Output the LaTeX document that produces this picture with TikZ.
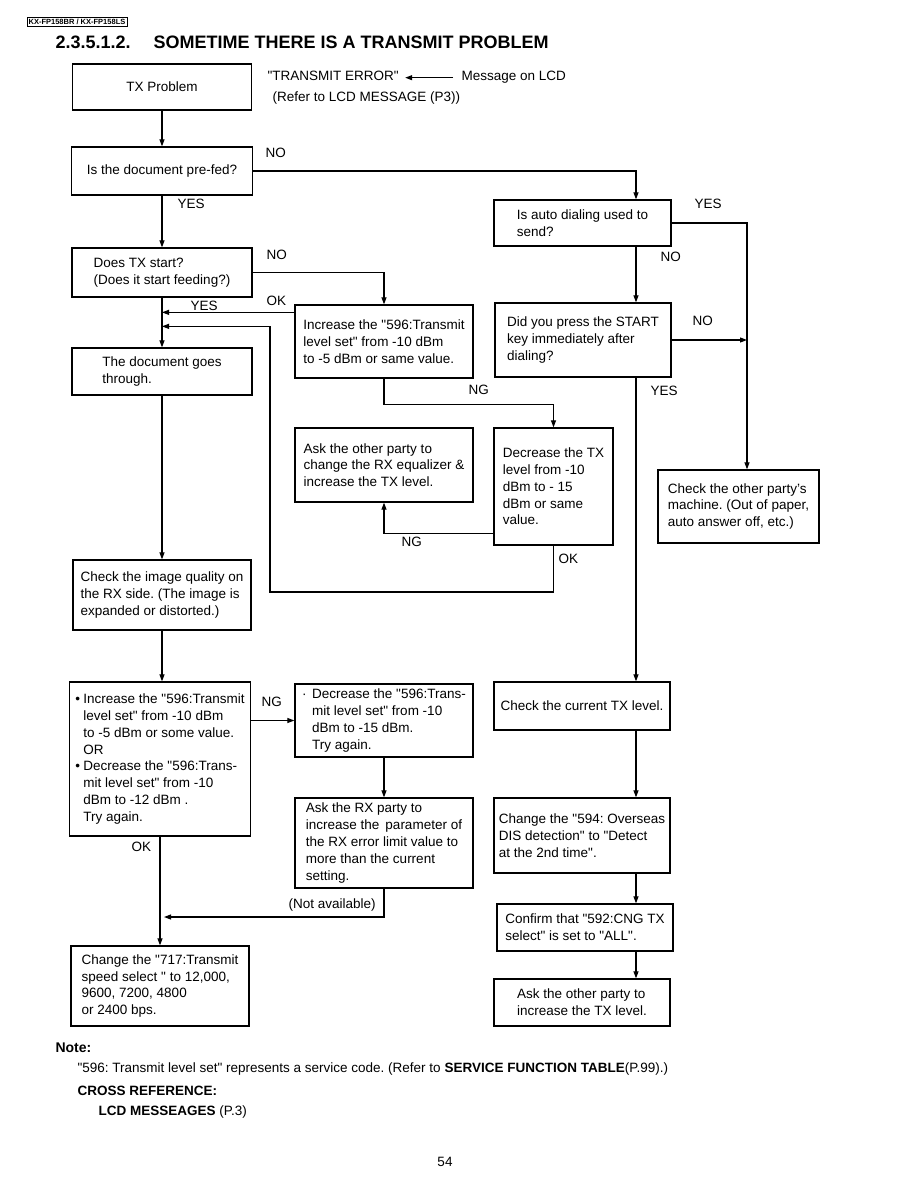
\documentclass[tikz,border=0pt]{standalone}
\usepackage{fontspec}
\setmainfont{Liberation Sans}
\frenchspacing
\usetikzlibrary{arrows.meta, positioning, calc}
\tikzset{
  every picture/.style={x=1pt, y=-1pt, line width=1.1pt},
  box/.style 2 args={draw, line width=1.3pt, align=left, inner sep=1pt, minimum width=#1, minimum height=#2, font=\fontsize{13.5}{16.8}\selectfont},
  arrow/.style={-{Triangle[length=7pt, width=5pt]}, line width=1.1pt},
  lbl/.style={anchor=west, inner sep=0pt, font=\fontsize{13.5}{16.8}\selectfont},
  note/.style={anchor=west, inner sep=0pt, font=\fontsize{13.5}{16}\selectfont},
}
\newcommand{\q}{\textquotedbl}
\newcommand{\bul}{\makebox[8pt][l]{\textbullet}}
\newcommand{\ind}{\hspace*{8pt}}

\begin{document}
\begin{tikzpicture}
  \useasboundingbox (0,0) rectangle (918,1188);
  \node[draw, line width=0.6pt, inner sep=1.5pt, font=\fontsize{7.5}{8}\selectfont\bfseries] (model) at (77,22) {KX-FP158BR / KX-FP158LS};
  \node[anchor=west, inner sep=0pt, font=\fontsize{18}{20}\selectfont\bfseries] (title) at (55,42) {2.3.5.1.2.\hspace{23pt}SOMETIME THERE IS A TRANSMIT PROBLEM};

  \coordinate (rx) at (636,0);
  \coordinate (rs) at (747,0);

  % left column
  \node[box={179}{46}] (tx) at (162,87) {TX Problem};
  \node[box={181}{48}] (prefed) at (162,171) {Is the document pre-fed?};
  \node[box={180}{49}] (start) at (162,272.5) {Does TX start?\\(Does it start feeding?)};
  \node[box={180}{47}] (doc) at (162,371.5) {The document goes\\through.};
  \node[box={178}{70}] (img) at (162,595) {Check the image quality on\\the RX side. (The image is\\expanded or distorted.)};
  \node[box={181}{154}] (bulbox) at (160,759) {\bul Increase the \q596:Transmit\\\ind level set\q{} from -10 dBm\\\ind to -5 dBm or some value.\\\ind OR\\\bul Decrease the \q596:Trans-\\\ind mit level set\q{} from -10\\\ind dBm to -12 dBm .\\\ind Try again.};
  \node[box={178}{80}] (spd) at (160,986) {Change the \q717:Transmit\\speed select \q{} to 12,000,\\9600, 7200, 4800\\or 2400 bps.};

  % middle column
  \node[box={178}{73}] (incr) at (384,341.5) {Increase the \q596:Transmit\\level set\q{} from -10 dBm\\to -5 dBm or same value.};
  \node[box={178}{74}] (askeq) at (384,465) {Ask the other party to\\change the RX equalizer \&\\increase the TX level.};
  \node[box={119}{117}] (dectx) at (553.5,486.5) {Decrease the TX\\level from -10\\dBm to - 15\\dBm or same\\value.};
  \node[box={178}{73}] (dec596) at (384,720.5) {\makebox[10pt][l]{\textperiodcentered}Decrease the \q596:Trans-\\\hspace*{10pt}mit level set\q{} from -10\\\hspace*{10pt}dBm to -15 dBm.\\\hspace*{10pt}Try again.};
  \node[box={178}{90}] (askrx) at (384,843) {Ask the RX party to\\increase the\, parameter of\\the RX error limit value to\\more than the current\\setting.};

  % right column
  \node[box={177}{46}] (auto) at (582.5,223) {Is auto dialing used to\\send?};
  \node[box={176}{74}] (press) at (583,340) {Did you press the START\\key immediately after\\dialing?};
  \node[box={161}{73}] (other) at (738.5,506.5) {Check the other party's\\machine. (Out of paper,\\auto answer off, etc.)};
  \node[box={176}{48}] (cur) at (582,706) {Check the current TX level.};
  \node[box={176}{75}] (c594) at (582,835.5) {Change the \q594: Overseas\\DIS detection\q{} to \q{}Detect\\at the 2nd time\q.};
  \node[box={176}{47}] (conf) at (585,927.5) {Confirm that \q592:CNG TX\\select\q{} is set to \q ALL\q.};
  \node[box={176}{47}] (askt) at (582,1002.5) {Ask the other party to\\increase the TX level.};

  % lcd message
  \node[lbl, anchor=base west] (errmsg) at (267,81) {\q TRANSMIT ERROR\q};
  \node[lbl, anchor=base west] (lcd) at (461,81) {Message on LCD};
  \node[lbl] (refer) at (272,98) {(Refer to LCD MESSAGE (P3))};
  \draw[arrow] ([xshift=-8pt]lcd.west) -- ([xshift=6pt]lcd.west -| errmsg.east);

  % labels
  \node[lbl] (no1) at (265,153) {NO};
  \node[lbl] (yes1) at (177,204) {YES};
  \node[lbl] (no2) at (266,255) {NO};
  \node[lbl] (yes2) at (190,306) {YES};
  \node[lbl] (ok1) at (266,301) {OK};
  \node[lbl] (ng1) at (468,390) {NG};
  \node[lbl] (yes3) at (694,204) {YES};
  \node[lbl] (no3) at (660,257) {NO};
  \node[lbl] (no4) at (692,321) {NO};
  \node[lbl] (yes4) at (650,391) {YES};
  \node[lbl] (ng2) at (401,542) {NG};
  \node[lbl] (ok2) at (558,559) {OK};
  \node[lbl] (ng3) at (261,702) {NG};
  \node[lbl] (ok3) at (131,847) {OK};
  \node[lbl] (notav) at (288,905) {(Not available)};

  % connectors
  \foreach \u/\v in {tx/prefed, prefed/start, start/doc, doc/img, img/bulbox, bulbox/spd}
    \draw[arrow] (\u.south) -- (\u.south |- \v.north);
  \foreach \u/\v in {auto/press, press/cur, cur/c594, c594/conf, conf/askt}
    \draw[arrow] (\u.south -| rx) -- (\v.north -| rx);
  \draw[arrow] (prefed.east) -| (auto.north -| rx);
  \draw[arrow] (auto.east) -| (other.north -| rs);
  \draw[arrow] (press.east) -- (press.east -| rs);
  \draw[arrow] (start.east) -| (incr.north);
  \draw[arrow] ([yshift=-8pt]incr.north west) -- ([yshift=-8pt]incr.north west -| start.south);
  \draw[arrow] (incr.south) -- ++(0,26) -| (dectx.north);
  \draw[arrow] ([yshift=12pt]dectx.south west) -| (askeq.south);
  \coordinate (okloop) at (270,592);
  \draw[arrow] (dectx.south) |- (okloop) |- ([yshift=21pt]doc.north);
  \draw[arrow] (dec596.west -| bulbox.east) -- (dec596.west);
  \draw[arrow] (dec596) -- (askrx);
  \coordinate (na) at (164,917);
  \draw[arrow] (askrx.south) |- (na);

  % notes
  \node[note, font=\fontsize{14}{16}\selectfont\bfseries] (notehd) at (55,1048) {Note:};
  \node[note] (note1) at (77,1069) {\q596: Transmit level set\q{} represents a service code. (Refer to \textbf{SERVICE FUNCTION TABLE}(P.99).)};
  \node[note, font=\fontsize{13.5}{16}\selectfont\bfseries] (xref) at (77,1091) {CROSS REFERENCE:};
  \node[note] (xref1) at (98,1112) {\textbf{LCD MESSEAGES} (P.3)};
  \node[note, anchor=center] (page) at (445,1162) {54};
\end{tikzpicture}
\end{document}
